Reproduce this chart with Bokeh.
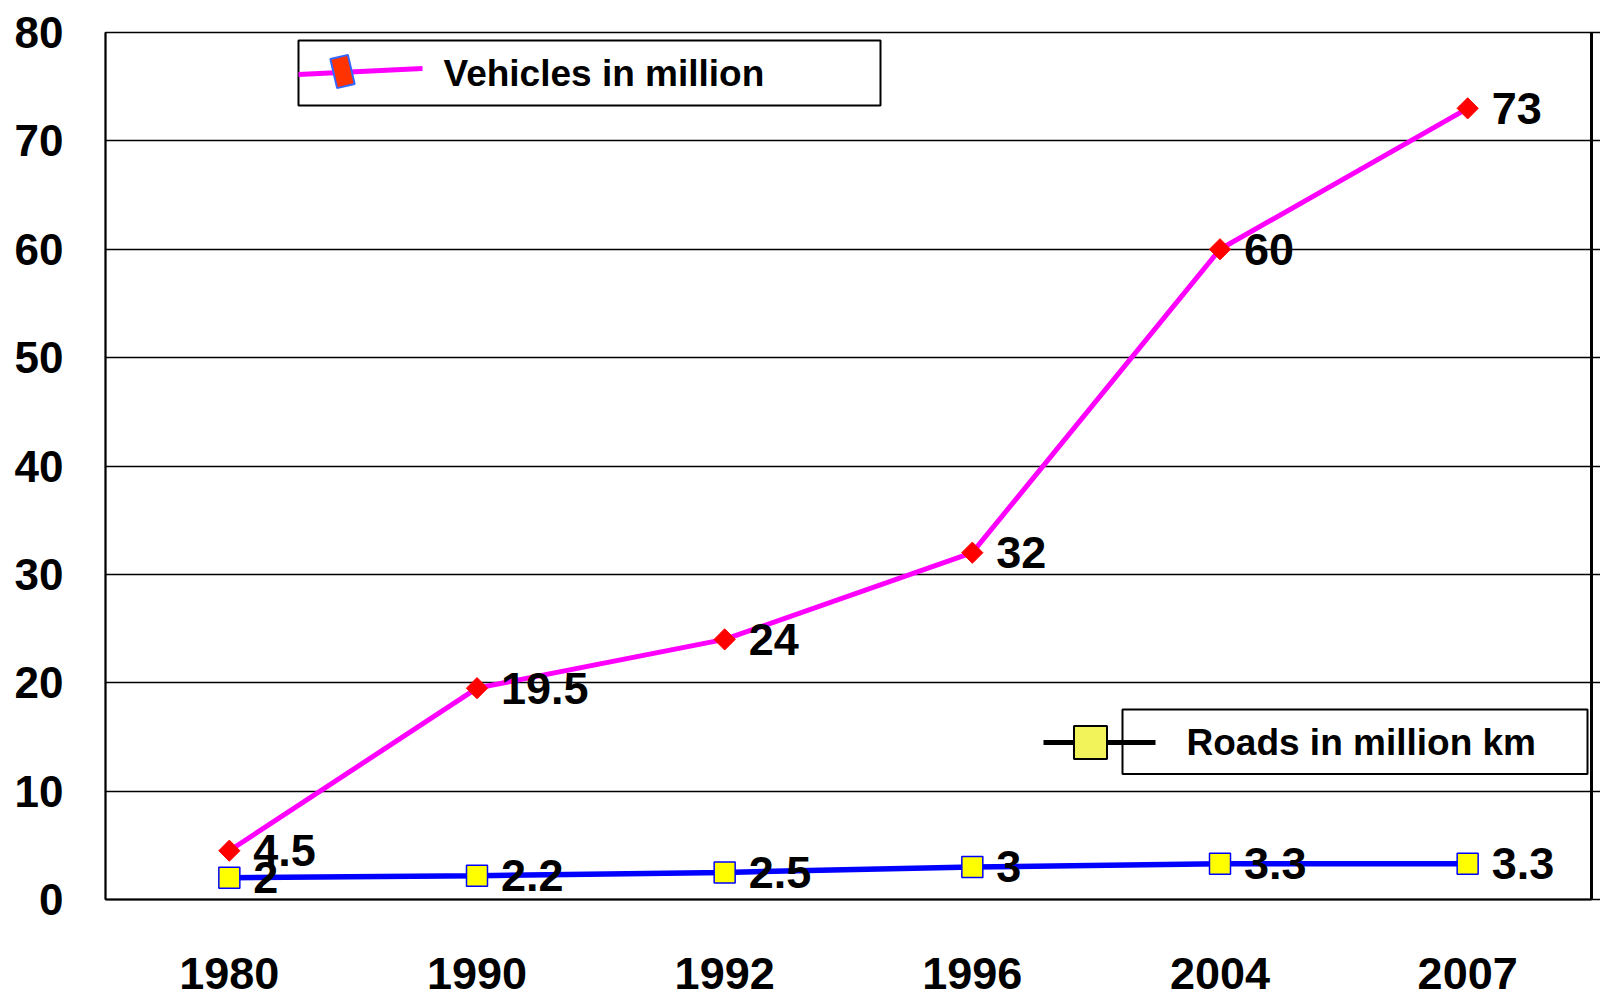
import math
from bokeh.plotting import figure
from bokeh.models import (FactorRange, Range1d, SingleIntervalTicker, LinearAxis,
                          CustomJSTickFormatter)
from bokeh.core.properties import value
from bokeh.embed import file_html
from bokeh.resources import INLINE

# ---- data ----
years = ["1980", "1990", "1992", "1996", "2004", "2007"]
vehicles = [4.5, 19.5, 24, 32, 60, 73]
roads = [2, 2.2, 2.5, 3, 3.3, 3.3]
vehicle_labels = ["4.5", "19.5", "24", "32", "60", "73"]
road_labels = ["2", "2.2", "2.5", "3", "3.3", "3.3"]
series_names = ["Vehicles in million", "Roads in million km"]

FONT = "Liberation Sans"

p = figure(width=1600, height=1000,
           x_range=FactorRange(*years, range_padding=0),
           y_range=Range1d(0, 80),
           output_backend="svg", toolbar_location=None,
           min_border_left=105, min_border_top=32,
           min_border_right=9, min_border_bottom=101)
p.background_fill_color = "white"
p.border_fill_color = "white"
p.outline_line_color = "black"
p.outline_line_width = 1.5

ticker = SingleIntervalTicker(interval=10, num_minor_ticks=0)

# grid
p.xgrid.visible = False
p.ygrid.ticker = ticker
p.ygrid.grid_line_color = "black"
p.ygrid.grid_line_width = 1.5

# left axis
p.yaxis.ticker = ticker
p.yaxis.axis_line_width = 2
p.yaxis.major_tick_out = 0
p.yaxis.major_tick_in = 0
p.yaxis.minor_tick_out = 0
p.yaxis.minor_tick_in = 0
p.yaxis.major_label_standoff = 42
p.yaxis.major_label_text_font = FONT
p.yaxis.major_label_text_font_style = "bold"
p.yaxis.major_label_text_font_size = "44px"
p.yaxis.major_label_text_color = "black"

# bottom axis
p.xaxis.axis_line_width = 2
p.xaxis.major_tick_out = 0
p.xaxis.major_tick_in = 0
p.xaxis.major_label_standoff = 58
p.xaxis.major_label_text_font = FONT
p.xaxis.major_label_text_font_style = "bold"
p.xaxis.major_label_text_font_size = "45px"
p.xaxis.major_label_text_color = "black"

# right axis (no labels, outward ticks)
raxis = LinearAxis(ticker=ticker, formatter=CustomJSTickFormatter(code="return ''"))
raxis.axis_line_width = 3
raxis.major_tick_out = 9
raxis.major_tick_in = 0
raxis.major_tick_line_width = 1.5
raxis.minor_tick_out = 0
raxis.minor_tick_in = 0
raxis.major_label_standoff = 0
p.add_layout(raxis, "right")

# ---- series ----
p.line(years, vehicles, line_color="#FF00FF", line_width=5)
p.line(years, roads, line_color="#0000FF", line_width=5.5)
p.scatter(years, vehicles, marker="square", angle=math.pi / 4, size=15,
          fill_color="#FF0000", line_color="#FF0000")
p.scatter(years, roads, marker="square", size=21,
          fill_color="#FFFF00", line_color="#0000FF", line_width=1.5)

lbl = dict(x_offset=24, text_align="left", text_baseline="middle",
           text_font=value(FONT), text_font_style="bold",
           text_font_size="45px", text_color="black")
p.text(x=years, y=vehicles, text=vehicle_labels, **lbl)
p.text(x=years, y=roads, text=road_labels, **lbl)

# ---- legends (positioned in page pixels, converted to data units) ----
FL, FR, FT, FB = 105.0, 1591.0, 32.0, 899.0


def dx(px):
    return (px - FL) / (FR - FL) * len(years)


def dy(py):
    return (FB - py) / (FB - FT) * 80.0


leg_txt = dict(text_align="left", text_baseline="middle",
               text_font=value(FONT), text_font_style="bold",
               text_font_size="37px", text_color="black")

# legend 1: vehicles
p.quad(left=[dx(298)], right=[dx(880)], top=[dy(40)], bottom=[dy(105)],
       fill_color="white", line_color="black", line_width=2)
p.line([dx(298), dx(422)], [dy(74), dy(68)], line_color="#FF00FF", line_width=5)
cx, cy, w, h, ang = 342.0, 71.0, 18.0, 30.0, math.radians(13)
corners = []
for sx, sy in [(-w / 2, -h / 2), (w / 2, -h / 2), (w / 2, h / 2), (-w / 2, h / 2)]:
    rx = sx * math.cos(ang) + sy * math.sin(ang)
    ry = -sx * math.sin(ang) + sy * math.cos(ang)
    corners.append((cx + rx, cy + ry))
p.patch([dx(c[0]) for c in corners], [dy(c[1]) for c in corners],
        fill_color="#FF3300", line_color="#3366FF", line_width=2)
p.text(x=[dx(443)], y=[dy(73)], text=[series_names[0]], **leg_txt)

# legend 2: roads
p.quad(left=[dx(1122)], right=[dx(1587)], top=[dy(709)], bottom=[dy(773.5)],
       fill_color="white", line_color="black", line_width=2)
p.line([dx(1043), dx(1155)], [dy(742), dy(742)], line_color="black", line_width=5)
p.scatter([dx(1090)], [dy(742)], marker="square", size=33,
          fill_color="#F2F25A", line_color="black", line_width=2)
p.text(x=[dx(1186)], y=[dy(742)], text=[series_names[1]], **leg_txt)

open("out.html", "w").write(file_html(p, INLINE))
